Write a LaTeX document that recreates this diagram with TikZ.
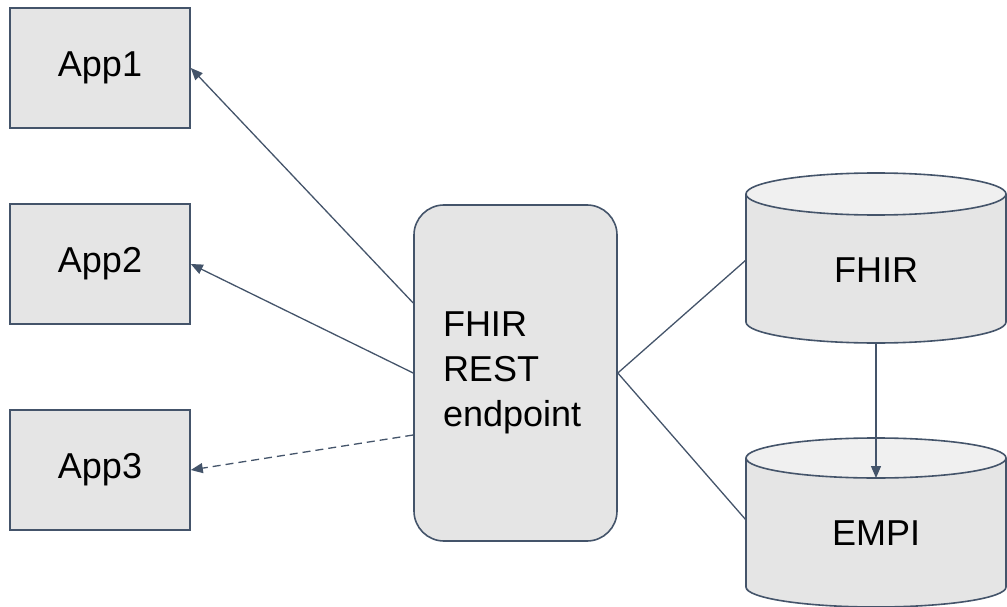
\documentclass[tikz,border=0pt]{standalone}
\usepackage{fontspec}
\setmainfont{Liberation Sans}
\usetikzlibrary{arrows.meta,positioning,calc}
\definecolor{SlateLine}{RGB}{68,84,106}
\definecolor{BoxFill}{RGB}{229,229,229}
\definecolor{TopFill}{RGB}{240,240,240}

\begin{document}
\begin{tikzpicture}[x=1pt, y=-1pt,
	lbl/.style={font=\fontsize{36}{45}\selectfont},
	appbox/.style={draw=SlateLine, fill=BoxFill, line width=1.6pt, minimum width=180pt, minimum height=120pt, inner sep=0pt, lbl},
	cyl/.style={draw=SlateLine, fill=BoxFill, line width=1.6pt},
	link/.style={draw=SlateLine, line width=1.3pt},
	arr/.style={link, -{Triangle[length=12pt,width=10pt]}}]
	\useasboundingbox (0,0) rectangle (1007,607);
	\node[appbox] (app1) at (100,68) {App1};
	\node[appbox] (app2) at (100,264) {App2};
	\node[appbox] (app3) at (100,470) {App3};
	\node[appbox, rounded corners=30pt, minimum width=203pt, minimum height=336pt, text width=145pt, inner xsep=29pt, align=left] (ep) at (515.5,373) {FHIR\\REST\\endpoint};
	\filldraw[cyl] (746,194) -- (746,322) arc[start angle=180, end angle=0, x radius=130, y radius=21] -- (1006,194);
	\filldraw[cyl, fill=TopFill] (876,194) ellipse[x radius=130, y radius=21];
	\filldraw[cyl] (746,458) -- (746,587) arc[start angle=180, end angle=0, x radius=130, y radius=20] -- (1006,458);
	\filldraw[cyl, fill=TopFill] (876,458) ellipse[x radius=130, y radius=20];
	\node[lbl] (fhir) at (876,270) {FHIR};
	\node[lbl] (empi) at (876,533) {EMPI};
	\coordinate (fhirleft) at (746,260);
	\coordinate (empileft) at (746,520);
	\coordinate (fhirbase) at (876,343);
	\coordinate (empitop) at (876,478);
	\draw[arr] ([yshift=70pt]ep.west) -- (app1.east);
	\draw[arr] (ep.west) -- (app2.east);
	\draw[arr, dash pattern=on 8pt off 5pt] ([yshift=-62pt]ep.west) -- (app3.east);
	\draw[link] (ep.east) -- (fhirleft);
	\draw[link] (ep.east) -- (empileft);
	\draw[arr] (fhirbase) -- (empitop);
\end{tikzpicture}
\end{document}
